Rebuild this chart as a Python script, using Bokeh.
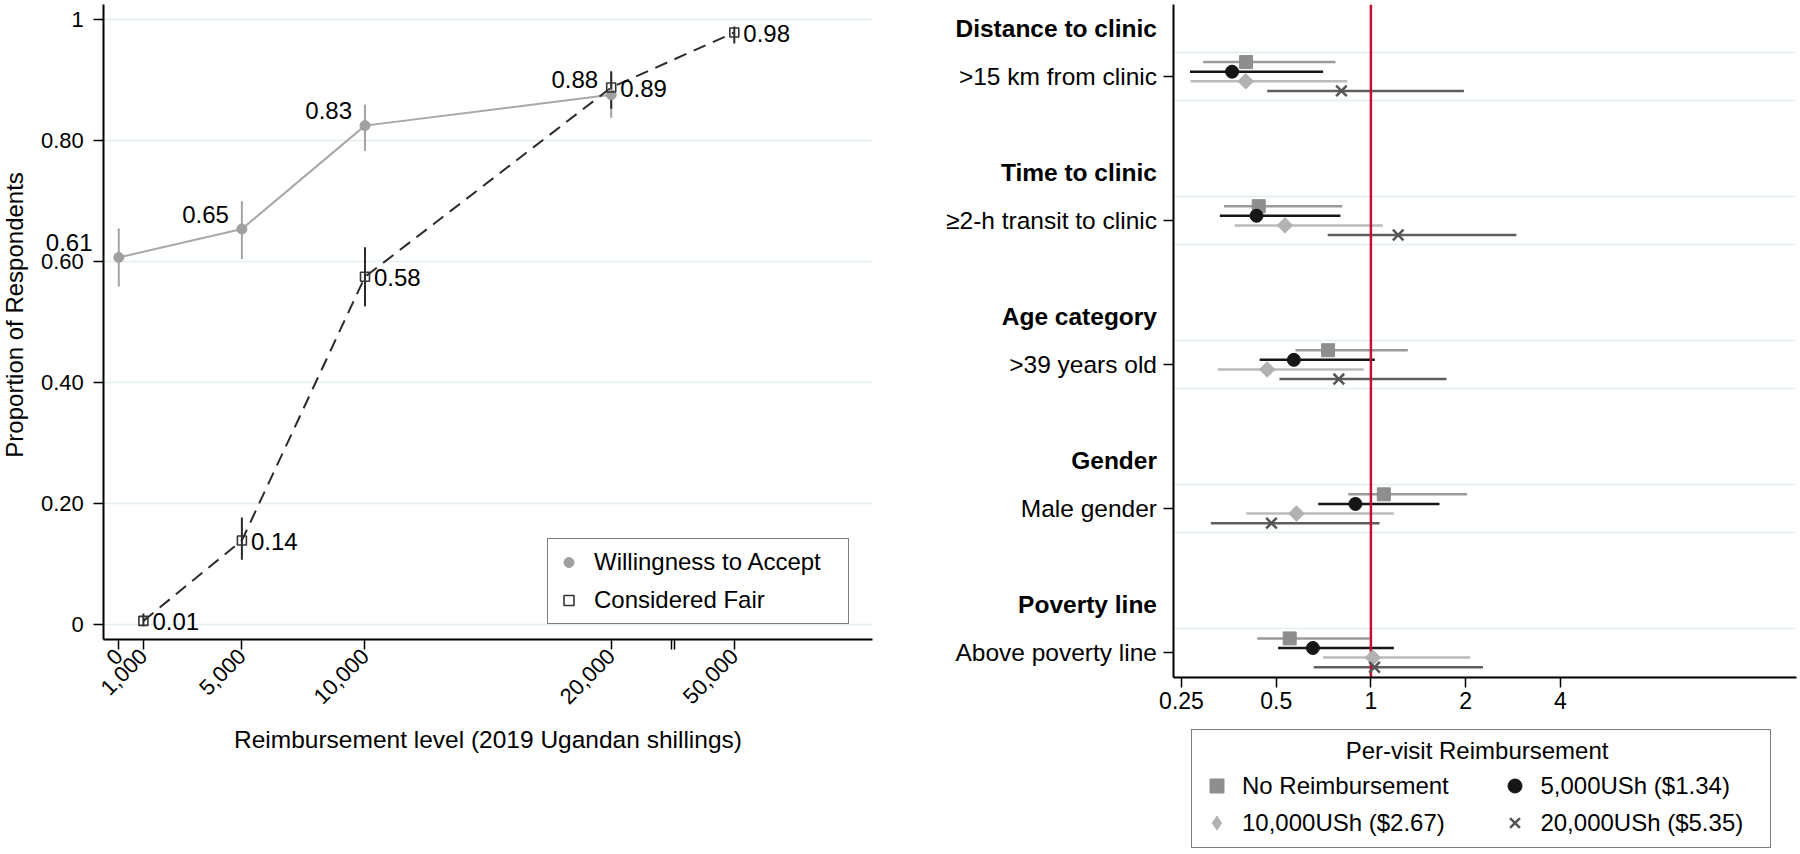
import math
from bokeh.plotting import figure
from bokeh.models import (FixedTicker, ColumnDataSource, LabelSet, Legend, LegendItem)
from bokeh.layouts import row, column
from bokeh.embed import file_html
from bokeh.resources import INLINE
from bokeh.core.properties import value

FONT = "Liberation Sans"

# ---------------- left panel data ----------------
wta_level = [0, 5000, 10000, 20000]
wta_prop = [0.607, 0.654, 0.825, 0.876]
wta_lo = [0.559, 0.604, 0.783, 0.838]
wta_hi = [0.655, 0.700, 0.860, 0.914]
wta_text = ["0.61", "0.65", "0.83", "0.88"]

fair_level = [1000, 5000, 10000, 20000, 50000]
fair_prop = [0.006, 0.139, 0.575, 0.888, 0.979]
fair_lo = [-0.003, 0.107, 0.526, 0.853, 0.961]
fair_hi = [0.018, 0.177, 0.624, 0.915, 0.989]
fair_text = ["0.01", "0.14", "0.58", "0.89", "0.98"]

x_tick_levels = [0, 1000, 5000, 10000, 20000, 50000]
x_tick_text = ["0", "1,000", "5,000", "10,000", "20,000", "50,000"]
y_ticks = [0, 0.2, 0.4, 0.6, 0.8, 1.0]
y_tick_text = ["0", "0.20", "0.40", "0.60", "0.80", "1"]

# ---------------- right panel data ----------------
headers = ["Distance to clinic", "Time to clinic", "Age category", "Gender", "Poverty line"]
categories = [">15 km from clinic", "\u22652-h transit to clinic", ">39 years old",
              "Male gender", "Above poverty line"]
series_names = ["No Reimbursement", "5,000USh ($1.34)", "10,000USh ($2.67)", "20,000USh ($5.35)"]
or_none = [0.401, 0.440, 0.731, 1.099, 0.552]
lo_none = [0.293, 0.341, 0.576, 0.847, 0.435]
hi_none = [0.772, 0.811, 1.310, 2.020, 0.992]
or_5k = [0.362, 0.433, 0.569, 0.893, 0.654]
lo_5k = [0.266, 0.331, 0.443, 0.680, 0.507]
hi_5k = [0.705, 0.800, 1.029, 1.652, 1.183]
or_10k = [0.400, 0.533, 0.468, 0.580, 1.014]
lo_10k = [0.267, 0.369, 0.326, 0.402, 0.705]
hi_10k = [0.841, 1.091, 0.949, 1.183, 2.070]
or_20k = [0.806, 1.221, 0.791, 0.483, 1.027]
lo_20k = [0.468, 0.729, 0.512, 0.310, 0.658]
hi_20k = [1.975, 2.900, 1.739, 1.065, 2.270]
or_ticks = [0.25, 0.5, 1, 2, 4]
or_tick_text = ["0.25", "0.5", "1", "2", "4"]
legend_title = "Per-visit Reimbursement"

HIDE = "\u200b"   # zero-width, undrawn label: tick marks stay, texts are drawn by the strips
NBSP = "\u00a0"


def axis_pos(v):
    """Broken x axis: values above 20,000 are compressed."""
    return v if v <= 20000 else 20000 + (v - 20000) / 6.0


def style_axes(p, tick_size):
    for ax in (p.xaxis, p.yaxis):
        ax.axis_line_color = "black"
        ax.axis_line_width = 2
        ax.major_tick_line_color = "black"
        ax.major_tick_line_width = 1.5
        ax.major_tick_out = 10
        ax.major_tick_in = 0
        ax.minor_tick_line_color = None
        ax.major_label_text_font = FONT
        ax.major_label_text_font_size = tick_size
        ax.major_label_text_color = "black"
        ax.axis_label_text_font = FONT
        ax.axis_label_text_font_size = "24.5px"
        ax.axis_label_text_font_style = "normal"
        ax.axis_label_text_color = "black"


def bare(width, height, x_range, y_range, top=0, bottom=0):
    s = figure(width=width, height=height, x_range=x_range, y_range=y_range,
               x_axis_location=None, y_axis_location=None, output_backend="svg",
               toolbar_location=None, min_border_left=0, min_border_right=0,
               min_border_top=top, min_border_bottom=bottom)
    s.grid.visible = False
    s.outline_line_color = None
    return s


GRID = "#E4EEF1"
H = 852

# ================= LEFT FIGURE =================
p1 = figure(width=807, height=H, x_range=(-621, 30613), y_range=(-0.0248, 1.0253),
            output_backend="svg", toolbar_location=None,
            min_border_left=10, min_border_right=28, min_border_top=4, min_border_bottom=H - 639)
p1.outline_line_color = None
p1.xgrid.visible = False
p1.ygrid.grid_line_color = GRID
p1.ygrid.grid_line_width = 1.5
style_axes(p1, "22px")

wta_src = ColumnDataSource(dict(x=[axis_pos(v) for v in wta_level], y=wta_prop,
                                lo=wta_lo, hi=wta_hi, t=wta_text))
fair_src = ColumnDataSource(dict(x=[axis_pos(v) for v in fair_level], y=fair_prop,
                                 lo=fair_lo, hi=fair_hi, t=fair_text))

p1.line("x", "y", source=wta_src, line_color="#A8A8A8", line_width=2)
p1.segment(x0="x", y0="lo", x1="x", y1="hi", source=wta_src, line_color="#A4A4A4", line_width=2)
p1.line("x", "y", source=fair_src, line_color="#2B2B2B", line_width=2, line_dash="13 8")
p1.segment(x0="x", y0="lo", x1="x", y1="hi", source=fair_src, line_color="#2B2B2B", line_width=2)
wta_pts = p1.scatter("x", "y", source=wta_src, marker="circle", size=10,
                     fill_color="#A0A0A0", line_color="#A0A0A0")
fair_pts = p1.scatter("x", "y", source=fair_src, marker="square", size=9,
                      fill_color=None, line_color="#333333", line_width=1.6)

wta_in = ColumnDataSource(dict(x=wta_src.data["x"][1:], y=wta_prop[1:], t=wta_text[1:]))
p1.add_layout(LabelSet(x="x", y="y", text="t", source=wta_in, x_offset=-13, y_offset=15,
                       text_align="right", text_baseline="middle",
                       text_font=value(FONT), text_font_size="24px", text_color="black"))
p1.add_layout(LabelSet(x="x", y="y", text="t", source=fair_src, x_offset=9, y_offset=-1,
                       text_align="left", text_baseline="middle",
                       text_font=value(FONT), text_font_size="24px", text_color="black"))

# x axis with a break between 20,000 and 50,000 (double mark drawn as two minor ticks)
break_pos = (axis_pos(20000) + axis_pos(50000)) / 2.0
xt = [axis_pos(v) for v in x_tick_levels]
p1.xaxis.ticker = FixedTicker(ticks=xt, minor_ticks=[break_pos - 60, break_pos + 60])
p1.xaxis.major_label_overrides = {t: s for t, s in zip(xt, x_tick_text)}
p1.xaxis.minor_tick_line_color = "black"
p1.xaxis.minor_tick_line_width = 1.5
p1.xaxis.minor_tick_out = 10
p1.xaxis.minor_tick_in = 0
p1.xaxis.major_label_orientation = math.pi / 4
p1.xaxis.major_label_standoff = 3
p1.xaxis.axis_label = "Reimbursement level (2019 Ugandan shillings)"
p1.xaxis.axis_label_standoff = 12

p1.yaxis.ticker = FixedTicker(ticks=y_ticks)
p1.yaxis.major_label_overrides = {t: HIDE for t in y_ticks}
p1.yaxis.major_label_text_color = None
p1.yaxis.major_label_standoff = 0

leg1 = Legend(items=[LegendItem(label=value("Willingness to Accept"), renderers=[wta_pts]),
                     LegendItem(label=value("Considered Fair"), renderers=[fair_pts])],
              location=(444, 15), orientation="vertical",
              border_line_color="black", border_line_width=1.5,
              background_fill_color="white", background_fill_alpha=1.0,
              padding=8, spacing=8, glyph_width=25, glyph_height=30,
              label_height=30, label_width=246, label_standoff=13,
              label_text_font=FONT, label_text_font_size="24px", label_text_color="black",
              margin=0)
p1.add_layout(leg1)

# left label strip: y tick labels, y title, and the "0.61" label
s1 = bare(93, H, (0, 93), p1.y_range, 4, H - 639)
s1.text(x=[83.3] * len(y_ticks), y=y_ticks, text=y_tick_text, text_align="right",
        text_baseline="middle", text_font=value(FONT), text_font_size="22px", text_color="black")
s1.text(x=[13.5], y=[0.512], text=["Proportion of Respondents"], angle=math.pi / 2,
        text_align="center", text_baseline="middle", text_font=value(FONT),
        text_font_size="24px", text_color="black")
s1.text(x=[92.0], y=wta_prop[:1], text=wta_text[:1], y_offset=-15, text_align="right",
        text_baseline="middle", text_font=value(FONT), text_font_size="24px", text_color="black")

# ================= RIGHT FIGURE =================
H2 = 722
y_lo_r, y_hi_r = -0.514, 13.499
x_lo_r, x_hi_r = 0.2358, 22.53
p2 = figure(width=641, height=H2, x_axis_type="log", x_range=(x_lo_r, x_hi_r),
            y_range=(y_lo_r, y_hi_r), output_backend="svg", toolbar_location=None,
            min_border_left=16, min_border_right=2, min_border_top=4, min_border_bottom=H2 - 677)
p2.outline_line_color = None
p2.xgrid.visible = False
style_axes(p2, "23px")

n = len(categories)
row_y = [3 * (n - 1 - i) for i in range(n)]
header_y = [r + 1 for r in row_y]
grid_y = sorted([r - 0.5 for r in row_y] + [r + 0.5 for r in row_y])
p2.ygrid.ticker = FixedTicker(ticks=grid_y)
p2.ygrid.grid_line_color = GRID
p2.ygrid.grid_line_width = 1.5

# (estimates, lower, upper, row offset, marker, size, marker colour, CI colour, angle, legend marker)
series = [
    (or_none, lo_none, hi_none, 0.3, "square", 13, "#8E8E8E", "#9A9A9A", 0, "square"),
    (or_5k, lo_5k, hi_5k, 0.1, "circle", 13, "#161616", "#161616", 0, "circle"),
    (or_10k, lo_10k, hi_10k, -0.1, "square", 11, "#B2B2B2", "#BBBBBB", math.pi / 4, "diamond"),
    (or_20k, lo_20k, hi_20k, -0.3, "x", 15, "#555555", "#5E5E5E", 0, "x"),
]
srcs = []
for est, lo, hi, off, mk, sz, mcol, ccol, ang, lmk in series:
    src = ColumnDataSource(dict(x=est, lo=lo, hi=hi, y=[r + off for r in row_y]))
    srcs.append(src)
    p2.segment(x0="lo", y0="y", x1="hi", y1="y", source=src, line_color=ccol, line_width=2.5)

p2.segment(x0=[1], y0=[y_lo_r], x1=[1], y1=[y_hi_r], line_color="#C8102E", line_width=2.5)


def add_marker(fig, src, mk, sz, mcol, ang):
    if mk == "x":
        return fig.scatter("x", "y", source=src, marker="x", size=sz, line_color=mcol,
                           line_width=2.5)
    return fig.scatter("x", "y", source=src, marker=mk, size=sz, angle=ang,
                       fill_color=mcol, line_color=mcol)


for src, s in zip(srcs, series):
    add_marker(p2, src, s[4], s[5], s[6], s[8])

p2.xaxis.ticker = FixedTicker(ticks=or_ticks)
p2.xaxis.major_label_overrides = {t: s for t, s in zip(or_ticks, or_tick_text)}
p2.xaxis.major_label_standoff = 4

p2.yaxis.ticker = FixedTicker(ticks=row_y)
p2.yaxis.major_label_overrides = {r: HIDE for r in row_y}
p2.yaxis.major_label_text_color = None
p2.yaxis.major_label_standoff = 0

# right label strip: bold group headers and category labels
s2 = bare(257, H, (0, 257), p2.y_range, 4, H - 677)
s2.text(x=[256.5] * n, y=row_y, text=categories, text_align="right", text_baseline="middle",
        text_font=value(FONT), text_font_size="24.5px", text_color="black")
s2.text(x=[256.5] * n, y=header_y, text=headers, text_align="right", text_baseline="middle",
        text_font=value(FONT), text_font_size="24.5px", text_font_style="bold",
        text_color="black")

# legend box under the right panel: its own canvas, the series' markers kept out of view
lf = bare(641, H - H2, (100, 200), (100, 200))
leg_rs = [add_marker(lf, src, s[9], s[5], s[6], 0) for src, s in zip(srcs, series)]
pad_col1 = NBSP * 7
pad_col2 = NBSP * 3
leg_labels = [series_names[0] + pad_col1, series_names[1] + pad_col2,
              series_names[2] + pad_col1, series_names[3] + pad_col2]
leg2 = Legend(items=[LegendItem(label=value(lb), renderers=[r])
                     for lb, r in zip(leg_labels, leg_rs)],
              orientation="horizontal", ncols=2, location=(18, 4),
              title=NBSP * 22 + legend_title, title_text_font=FONT,
              title_text_font_size="24px", title_text_font_style="normal",
              title_text_color="black", title_standoff=3,
              padding=7, spacing=2, glyph_width=35, glyph_height=35,
              label_height=35, label_standoff=8,
              label_text_font=FONT, label_text_font_size="24px", label_text_color="black",
              border_line_color="black", border_line_width=1.5,
              background_fill_color="white", background_fill_alpha=1.0, margin=0)
lf.add_layout(leg2)

layout = row(s1, p1, column(s2), column(p2, lf))
open("out.html", "w").write(file_html(layout, INLINE))
